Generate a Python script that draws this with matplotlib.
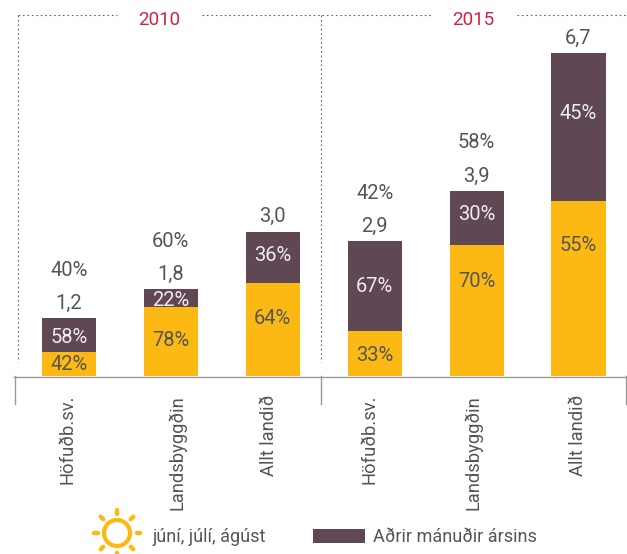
import numpy as np
import matplotlib
matplotlib.use("Agg")
import matplotlib.pyplot as plt
from matplotlib.lines import Line2D
from matplotlib.patches import Circle, Rectangle
from matplotlib.transforms import Affine2D

plt.rcParams["font.family"] = ["Roboto", "DejaVu Sans"]

# values
categories = ["Höfuðb.sv.", "Landsbyggðin", "Allt landið"] * 2
years = ["2010", "2015"]
summer = [0.50, 1.43, 1.93, 0.93, 2.72, 3.63]
other = [0.70, 0.37, 1.06, 1.87, 1.12, 3.07]
totals = ["1,2", "1,8", "3,0", "2,9", "3,9", "6,7"]
summer_share = ["42%", "78%", "64%", "33%", "70%", "55%"]
other_share = ["58%", "22%", "36%", "67%", "30%", "45%"]
top_share = ["40%", "60%", "", "42%", "58%", ""]
legend_labels = ["júní, júlí, ágúst", "Aðrir mánuðir ársins"]

YELLOW = "#fdb913"
PURPLE = "#5f4753"
TEXT = "#555555"
RED = "#d2223f"
GRID = "#999999"

W, H = 627, 554
fig = plt.figure(figsize=(W / 100, H / 100), dpi=100)
ax = fig.add_axes([0, 0, 1, 1])
ax.axis("off")

# x: 102 px per category, first centre at 69 px; y: 48.2 px per unit, base at 376 px
ax.set_xlim(-69 / 101.9, (W - 69) / 101.9)
ax.set_ylim(-(H - 376) / 48.2, 376 / 48.2)

# pixel coordinates with origin top left, for the frame and the legend
px = Affine2D().scale(1, -1).translate(0, H)

x = np.arange(6)
summer = np.array(summer)
other = np.array(other)
ax.bar(x, summer, width=0.53, color=YELLOW)
ax.bar(x, other, width=0.53, bottom=summer, color=PURPLE)


def label(i, y, dy, s, color, size=14.5):
    ax.annotate(s, (i, y), xytext=(0, -dy * 0.72), textcoords="offset points",
                ha="center", va="center", color=color, fontsize=size)


summer_off = [13, 33, 36, 24, 37, 44]
other_off = [19, 11, 24, 45, 24, 60]
for i in x:
    top = summer[i] + other[i]
    label(i, summer[i], summer_off[i], summer_share[i], TEXT)
    label(i, top, other_off[i], other_share[i], "#f0eced")
    label(i, top, -15, totals[i], TEXT)
    label(i, top, -48, top_share[i], TEXT)


def line(xs, ys, **kw):
    fig.add_artist(Line2D(xs, ys, transform=px, **kw))


# frame round each period
for xs, ys in [([17.5, 117], [15, 15]), ([202, 432], [15, 15]), ([517, 627], [15, 15]),
               ([17.5, 17.5], [15, 362]), ([321, 321], [15, 362])]:
    line(xs, ys, color="#666666", lw=0.8, ls=(0, (1.5, 2.5)))

# axis bracket
line([14, 626], [376.5, 376.5], color=GRID, lw=1)
for xv in [14.5, 320.5, 625.5]:
    line([xv, xv], [376, 404], color=GRID, lw=1)

cat_x = [67, 177, 269, 369, 473, 578]
for xv, s in zip(cat_x, categories):
    fig.text(xv, H - 395, s, transform=Affine2D(), rotation=90, ha="center", va="top",
             color=TEXT, fontsize=13.2)

for xv, s in zip([159, 473], years):
    fig.text(xv, H - 20, s, transform=Affine2D(), ha="center", va="center", color=RED,
             fontsize=13.5)

# legend: sun icon and swatch
cx, cy = 117, 533
fig.add_artist(Circle((cx, cy), 13, transform=px, fill=False, ec=YELLOW, lw=3))
for a in np.deg2rad(np.arange(0, 360, 45)):
    line([cx + 19.5 * np.cos(a), cx + 23 * np.cos(a)],
         [cy + 19.5 * np.sin(a), cy + 23 * np.sin(a)],
         color=YELLOW, lw=3.2, solid_capstyle="round")
fig.add_artist(Rectangle((313, 529), 52, 14, transform=px, fc=PURPLE, ec="none"))
fig.text(153, H - 537, legend_labels[0], transform=Affine2D(), ha="left", va="center",
         color=TEXT, fontsize=13)
fig.text(373, H - 537, legend_labels[1], transform=Affine2D(), ha="left", va="center",
         color=TEXT, fontsize=13)

fig.savefig("out.png", dpi=100)
